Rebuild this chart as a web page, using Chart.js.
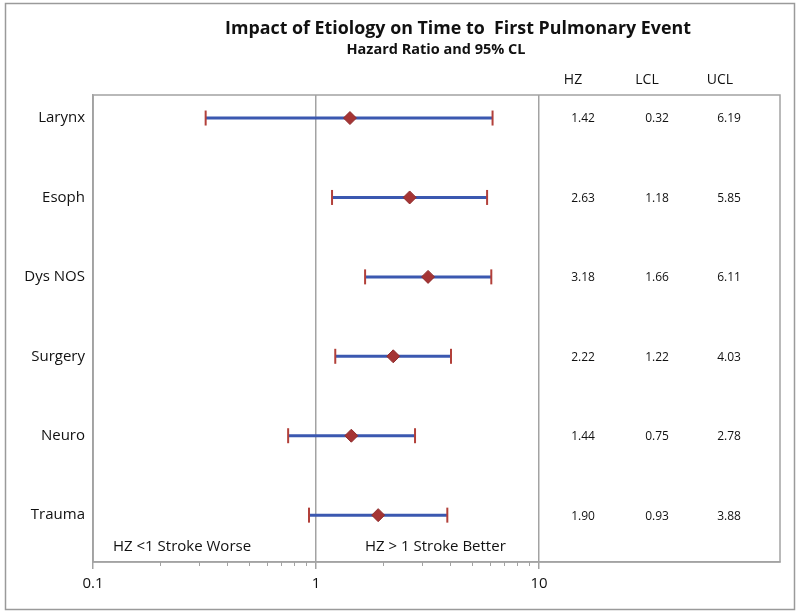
<!DOCTYPE html>
<html>
<head>
<meta charset="utf-8">
<script src="https://cdn.jsdelivr.net/npm/chart.js@4.4.1/dist/chart.umd.min.js"></script>
<style>
  html, body { margin: 0; padding: 0; background: #fff; }
  #wrap { width: 800px; height: 612px; }
</style>
</head>
<body>
<div id="wrap"><canvas id="c" width="800" height="612"></canvas></div>
<script>
// ---- data ----
const categories = ['Larynx', 'Esoph', 'Dys NOS', 'Surgery', 'Neuro', 'Trauma'];
const hz  = [1.42, 2.63, 3.18, 2.22, 1.44, 1.90];
const lcl = [0.32, 1.18, 1.66, 1.22, 0.75, 0.93];
const ucl = [6.19, 5.85, 6.11, 4.03, 2.78, 3.88];
const xTickLabels = [0.1, 1, 10];
const tableHeaders = ['HZ', 'LCL', 'UCL'];
const titleText = 'Impact of Etiology on Time to  First Pulmonary Event';
const subtitleText = 'Hazard Ratio and 95% CL';
const leftNote = 'HZ <1 Stroke Worse';
const rightNote = 'HZ > 1 Stroke Better';

const FONT = '"Open Sans", "Noto Sans", sans-serif';
const GRAY = '#a3a3a3';
const BLUE = '#3b58b0';
const RED = '#b2403a';
const DIAMOND = '#a53434';

const lineSets = categories.map((c, i) => ({
  type: 'scatter',
  label: c,
  data: [{x: lcl[i], y: i}, {x: ucl[i], y: i}],
  showLine: true,
  borderColor: BLUE,
  borderWidth: 3,
  pointRadius: 0,
  order: 3
}));

const capSet = {
  type: 'scatter',
  label: 'caps',
  data: categories.flatMap((c, i) => [{x: lcl[i], y: i}, {x: ucl[i], y: i}]),
  pointStyle: 'line',
  rotation: 90,
  pointRadius: 7.5,
  borderColor: RED,
  borderWidth: 2,
  order: 2
};

const diamondSet = {
  type: 'scatter',
  label: 'HZ',
  data: hz.map((v, i) => ({x: v, y: i})),
  pointStyle: 'rectRot',
  pointRadius: 6.5,
  backgroundColor: DIAMOND,
  borderColor: '#8e2c2c',
  borderWidth: 1,
  order: 1
};

const overlay = {
  id: 'overlay',
  afterDraw(chart) {
    const ctx = chart.ctx;
    const a = chart.chartArea;
    const xs = chart.scales.x, ys = chart.scales.y;
    ctx.save();
    // outer border
    ctx.strokeStyle = '#9a9a9a';
    ctx.lineWidth = 1.5;
    ctx.strokeRect(5.5, 3.5, 789, 606);
    // plot box
    ctx.strokeStyle = GRAY;
    ctx.lineWidth = 1.5;
    ctx.strokeRect(a.left, a.top, a.right - a.left, a.bottom - a.top);
    // minor ticks
    ctx.beginPath();
    ctx.lineWidth = 1;
    for (let d = 0.1; d < 10; d *= 10) {
      for (let k = 2; k <= 9; k++) {
        const px = Math.round(xs.getPixelForValue(d * k)) + 0.5;
        ctx.moveTo(px, a.bottom);
        ctx.lineTo(px, a.bottom + 4);
      }
    }
    ctx.stroke();

    ctx.fillStyle = '#111';
    ctx.textBaseline = 'middle';
    // title
    ctx.textAlign = 'left';
    ctx.font = 'bold 18px ' + FONT;
    ctx.fillText(titleText, 225, 29, 466);
    ctx.textAlign = 'center';
    ctx.font = 'bold 14.5px ' + FONT;
    ctx.fillText(subtitleText, 436, 50, 182);
    // table header
    ctx.font = '14px ' + FONT;
    const hx = [573, 647, 720];
    tableHeaders.forEach((h, j) => ctx.fillText(h, hx[j], 80));
    // table values
    ctx.font = '12px ' + FONT;
    const vx = [583, 657, 729];
    categories.forEach((c, i) => {
      const py = ys.getPixelForValue(i);
      [hz[i], lcl[i], ucl[i]].forEach((v, j) => ctx.fillText(v.toFixed(2), vx[j], py + 1));
    });
    // notes
    ctx.textAlign = 'left';
    ctx.font = '15px ' + FONT;
    ctx.fillText(leftNote, a.left + 20, 547, 143);
    ctx.fillText(rightNote, 365, 547, 144);
    ctx.restore();
  }
};

new Chart(document.getElementById('c'), {
  type: 'scatter',
  data: { datasets: [diamondSet, capSet, ...lineSets] },
  options: {
    responsive: false,
    animation: false,
    events: [],
    layout: { padding: { top: 95, right: 20, bottom: 0, left: 0 } },
    plugins: { legend: { display: false }, tooltip: { enabled: false }, title: { display: false } },
    scales: {
      x: {
        type: 'logarithmic',
        position: 'bottom',
        min: 0.1,
        max: 120.4,
        afterBuildTicks(scale) { scale.ticks = xTickLabels.map(v => ({ value: v, major: true })); },
        afterFit(scale) { scale.height = 50; },
        ticks: {
          autoSkip: false,
          maxRotation: 0,
          padding: 6,
          color: '#111',
          font: { family: FONT, size: 15 },
          callback: (v) => String(v)
        },
        grid: {
          color: GRAY,
          lineWidth: 1.5,
          tickLength: 7,
          tickColor: GRAY,
          tickWidth: 1.5
        },
        border: { display: true, color: GRAY, width: 1.5 }
      },
      y: {
        type: 'linear',
        reverse: true,
        min: -0.29,
        max: 5.59,
        afterBuildTicks(scale) { scale.ticks = categories.map((c, i) => ({ value: i })); },
        afterFit(scale) { scale.width = 93; },
        ticks: {
          padding: 8,
          color: '#111',
          font: { family: FONT, size: 15 },
          callback: (v) => categories[v] ?? ''
        },
        grid: { display: false, drawTicks: false },
        border: { display: true, color: GRAY, width: 1.5 }
      }
    }
  },
  plugins: [overlay]
});
</script>
</body>
</html>
